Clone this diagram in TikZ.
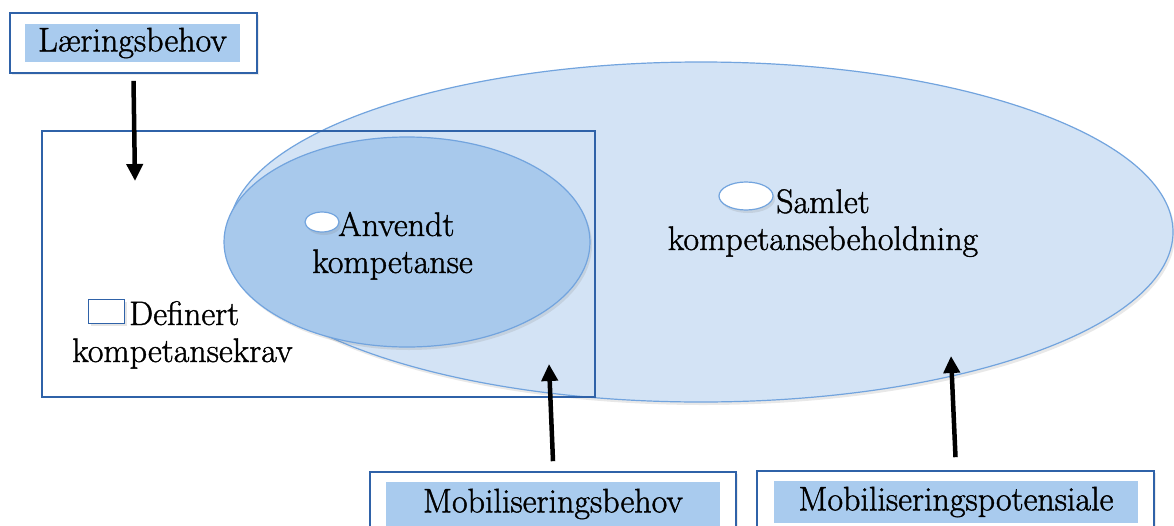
\documentclass[tikz,border=0pt]{standalone}
\usepackage{fontspec}
\setmainfont{Latin Modern Roman}[FakeBold=1.2]
\usetikzlibrary{arrows.meta,shapes.geometric,shadows}
\definecolor{frameblue}{HTML}{2F62A8}
\definecolor{edgeblue}{HTML}{72A4DE}
\definecolor{outerfill}{HTML}{D3E3F5}
\definecolor{innerfill}{HTML}{A8C9EC}
\definecolor{labelfill}{HTML}{A9CBEE}
\tikzset{
  x=1pt, y=-1pt,
  txt/.style={font=\fontsize{34}{37}\selectfont, inner sep=0pt, align=center},
  framebox/.style={draw=frameblue, line width=1.6pt, fill=white, inner sep=0pt,
    drop shadow={shadow xshift=2pt, shadow yshift=-2pt, opacity=0.15}},
  tag/.style={fill=labelfill, inner sep=0pt, font=\fontsize{34}{37}\selectfont},
  blob/.style={ellipse, draw=edgeblue, line width=1.2pt, inner sep=0pt,
    drop shadow={shadow xshift=2pt, shadow yshift=-3pt, opacity=0.18}},
  bigarrow/.style={line width=4.5pt, -{Triangle[width=16pt,length=17pt]}},
}
\begin{document}
\begin{tikzpicture}
\clip (0,0) rectangle (1174,525);
\fill[white] (0,0) rectangle (1174,525);

% overall competence
\node[blob, fill=outerfill, minimum width=944, minimum height=340] (total) at (701,232) {};
% defined requirements frame
\node[draw=frameblue, line width=1.4pt, minimum width=553, minimum height=266, inner sep=0pt] (req) at (318.5,264) {};
% applied competence
\node[blob, fill=innerfill, minimum width=366, minimum height=210] (used) at (407,242) {};

% small legend marks
\node[draw=frameblue, line width=1.3pt, fill=white, minimum width=36, minimum height=24, inner sep=0pt,
  drop shadow={shadow xshift=2pt, shadow yshift=-2pt, opacity=0.2}] (reqmark) at (106.5,311.5) {};
\node[blob, fill=white, minimum width=34, minimum height=20] (usedmark) at (322,222) {};
\node[blob, fill=white, minimum width=54, minimum height=28] (totalmark) at (746,196) {};

% labels inside the shapes
\node[txt, anchor=base west] (reqA) at (129,325) {Definert};
\node[txt, anchor=base west] (reqB) at (72,362) {kompetansekrav};
\node[txt, anchor=base west] (usedA) at (338,236) {Anvendt};
\node[txt, anchor=base west] (usedB) at (312,273) {kompetanse};
\node[txt, anchor=base] (totB) at (823,250) {kompetansebeholdning};
\node[txt, anchor=base west] (totA) at (776,213) {Samlet};

% boxed captions
\node[framebox, minimum width=247, minimum height=60] (learn) at (133.5,43) {};
\node[tag, minimum width=215, minimum height=38] (learnT) at (132.5,43) {Læringsbehov};
\node[framebox, minimum width=366, minimum height=70] (mobneed) at (553,507) {};
\node[tag, minimum width=334, minimum height=44] (mobneedT) at (553,504) {Mobiliseringsbehov};
\node[framebox, minimum width=397, minimum height=70] (mobpot) at (955.5,506) {};
\node[tag, minimum width=364, minimum height=42] (mobpotT) at (956,502) {Mobiliseringspotensiale};

% arrows
\coordinate (learnEnd) at (135,181);
\coordinate (needEnd) at (549,364);
\coordinate (potEnd) at (951,356);
\draw[bigarrow] (learn.south)++(0,7) coordinate (l0) (l0) -- (learnEnd);
\draw[bigarrow] (mobneed.north)++(0,-10) coordinate (n0) (n0) -- (needEnd);
\draw[bigarrow] (mobpot.north)++(0,-13) coordinate (p0) (p0) -- (potEnd);
\end{tikzpicture}
\end{document}
